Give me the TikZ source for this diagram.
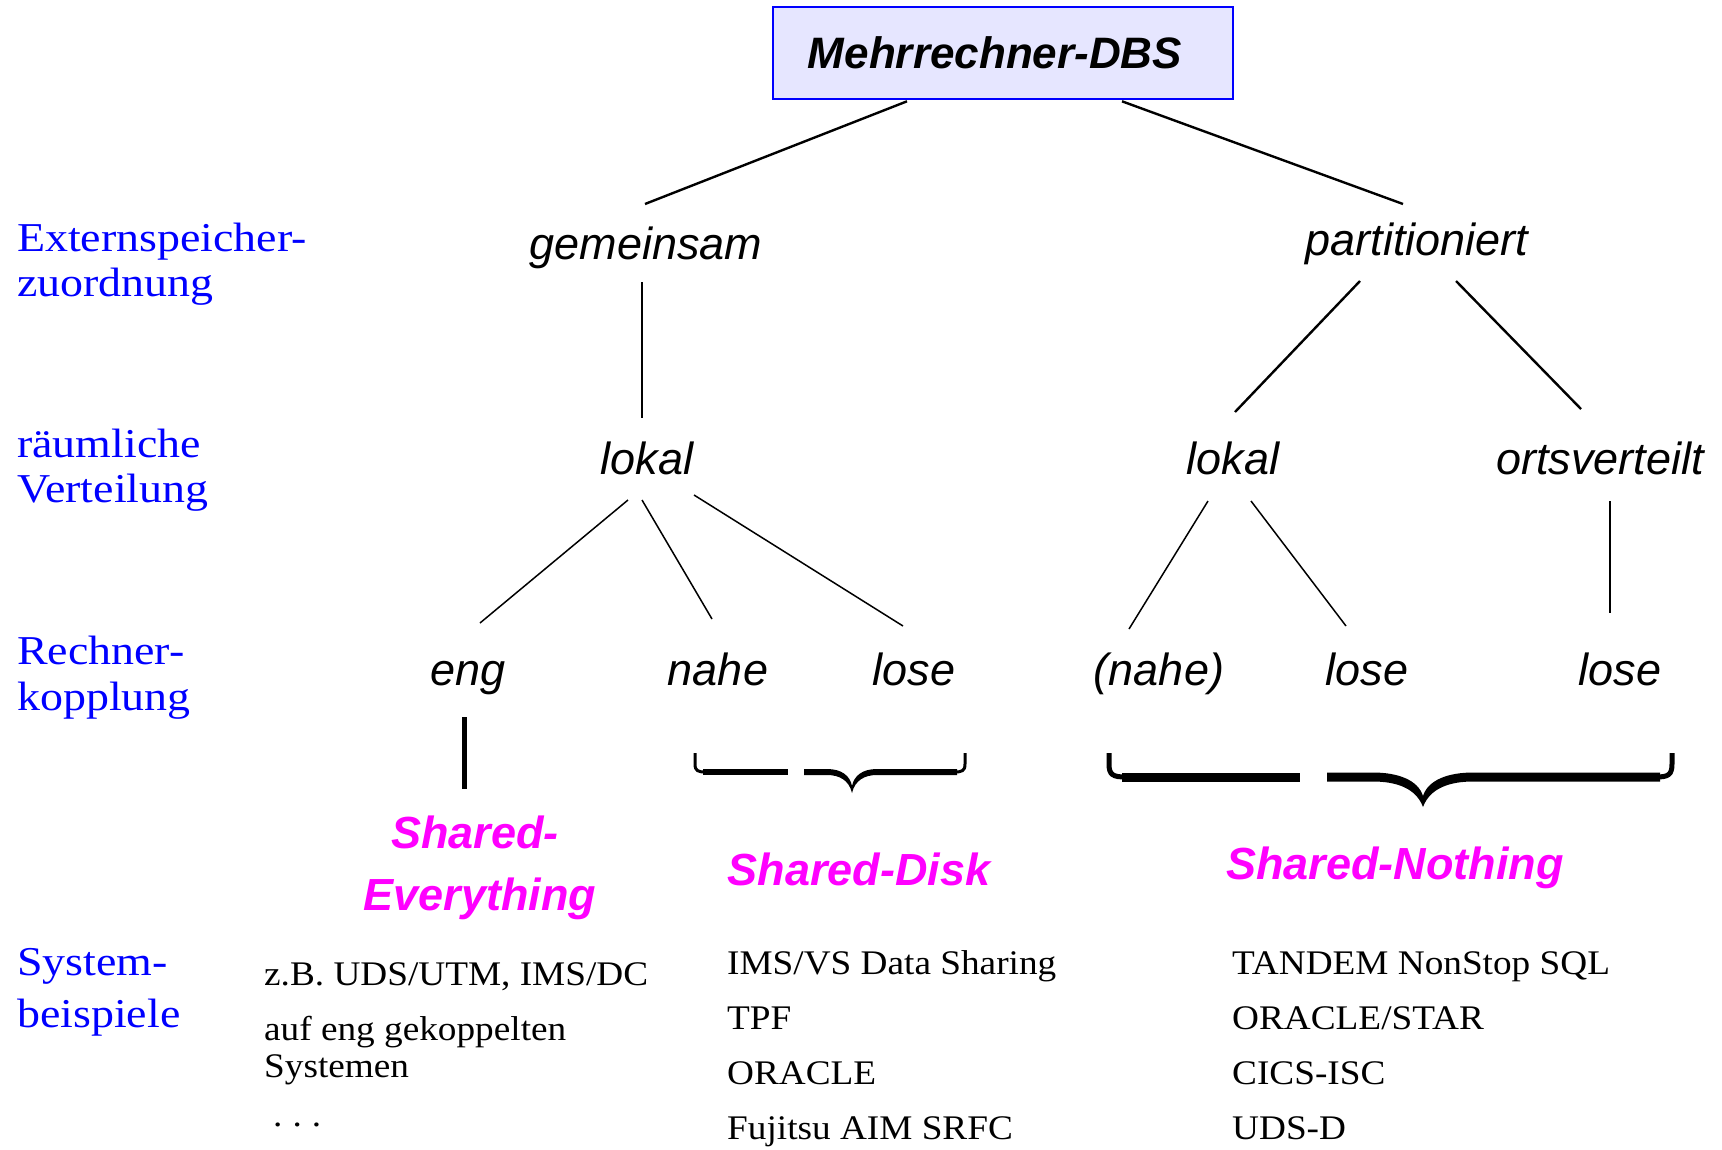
\documentclass[tikz,border=0pt]{standalone}
\usepackage{fontspec}
\usetikzlibrary{calc}
\newfontfamily\lblfont{Liberation Sans}
\newfontfamily\sidefont[FakeStretch=1.12]{Liberation Serif}
\newfontfamily\exfont[FakeStretch=1.08]{Liberation Serif}
\definecolor{boxfill}{RGB}{230,230,255}
\definecolor{sideblue}{RGB}{0,0,255}
\definecolor{shmag}{RGB}{255,0,255}
\tikzset{
  titlebox/.style={draw=sideblue, line width=2.6pt, fill=boxfill, minimum width=460pt,
    minimum height=92pt, inner sep=0pt, font=\lblfont\bfseries\itshape\fontsize{44}{50}\selectfont},
  lbl/.style={anchor=base, inner sep=0pt, font=\lblfont\itshape\fontsize{45}{52}\selectfont},
  shr/.style={anchor=base, inner sep=0pt, text=shmag, font=\lblfont\bfseries\itshape\fontsize{45}{52}\selectfont},
  side/.style={anchor=base west, inner sep=0pt, text=sideblue, font=\sidefont\fontsize{41}{46}\selectfont},
  ex/.style={anchor=base west, inner sep=0pt, font=\exfont\fontsize{34.5}{40}\selectfont},
  conn/.style={line width=2.4pt},
  connthin/.style={line width=1.5pt},
  thickbar/.style={line width=5pt},
}
\begin{document}
\begin{tikzpicture}[x=1pt, y=-1pt]
\fill[white] (0,0) rectangle (1722,1149);
\useasboundingbox (0,0) rectangle (1722,1149);

% root
\node[titlebox] (top) at (1003,53) {Mehrrechner-DBS\hspace*{16pt}};

% level 1: Externspeicherzuordnung
\node[lbl] (gem)  at (646,259)  {gemeinsam};
\node[lbl] (part) at (1417,255) {partitioniert};

% level 2: raeumliche Verteilung
\node[lbl] (lok1) at (647,474)  {lokal};
\node[lbl] (lok2) at (1233,474) {lokal};
\node[lbl] (orts) at (1600,474) {ortsverteilt};

% level 3: Rechnerkopplung
\node[lbl] (eng)   at (468,685)  {eng};
\node[lbl] (nahe)  at (718,685)  {nahe};
\node[lbl] (lose1) at (914,685)  {lose};
\node[lbl] (pnahe) at (1159,685) {(nahe)};
\node[lbl] (lose2) at (1367,685) {lose};
\node[lbl] (lose3) at (1620,685) {lose};

% architecture classes
\node[shr] (se1) at (475,848) {Shared-};
\node[shr] (se2) at (480,910) {Everything};
\node[shr] (sd)  at (859,885) {Shared-Disk};
\node[shr] (sn)  at (1395,879) {Shared-Nothing};

% row captions
\node[side] (c1a) at (17,251) {Externspeicher-};
\node[side] (c1b) at (17,296) {zuordnung};
\node[side] (c2a) at (17,457) {räumliche};
\node[side] (c2b) at (17,502) {Verteilung};
\node[side] (c3a) at (17,664) {Rechner-};
\node[side] (c3b) at (17,710) {kopplung};
\node[side] (c4a) at (17,975) {System-};
\node[side] (c4b) at (17,1027) {beispiele};

% example systems
\node[ex] (e11) at (264,985)  {z.B. UDS/UTM, IMS/DC};
\node[ex] (e12) at (264,1040) {auf eng gekoppelten};
\node[ex] (e13) at (264,1077) {Systemen};
\node[ex] (e14) at (273,1126) {.\hspace{10pt}.\hspace{10pt}.};
\node[ex] (e21) at (727,974)  {IMS/VS Data Sharing};
\node[ex] (e22) at (727,1029) {TPF};
\node[ex] (e23) at (727,1084) {ORACLE};
\node[ex] (e24) at (727,1139) {Fujitsu AIM SRFC};
\node[ex] (e31) at (1232,974)  {TANDEM NonStop SQL};
\node[ex] (e32) at (1232,1029) {ORACLE/STAR};
\node[ex] (e33) at (1232,1084) {CICS-ISC};
\node[ex] (e34) at (1232,1139) {UDS-D};

% tree edges
\draw[conn] ($(top.south)+(-96,1)$) -- ($(gem.base)+(-1,-55)$);
\draw[conn] ($(top.south)+(119,1)$) -- ($(part.base)+(-14,-51)$);
\draw[conn] ($(gem.base)+(-4,23)$) -- ($(lok1.base)+(-5,-56)$);
\draw[conn] ($(part.base)+(-57,26)$) -- ($(lok2.base)+(2,-62)$);
\draw[conn] ($(part.base)+(39,26)$) -- ($(orts.base)+(-19,-65)$);
\draw[connthin] ($(lok1.base)+(-19,26)$) -- ($(eng.base)+(12,-62)$);
\draw[connthin] ($(lok1.base)+(-5,26)$) -- ($(nahe.base)+(-6,-66)$);
\draw[connthin] ($(lok1.base)+(47,21)$) -- ($(lose1.base)+(-11,-59)$);
\draw[connthin] ($(lok2.base)+(-25,27)$) -- ($(pnahe.base)+(-30,-56)$);
\draw[connthin] ($(lok2.base)+(18,27)$) -- ($(lose2.base)+(-21,-59)$);
\draw[conn] ($(orts.base)+(10,27)$) -- ($(lose3.base)+(-10,-72)$);
\draw[thickbar] ($(eng.base)+(-4,32)$) -- ($(se1.base)+(-11,-59)$);

% brace under nahe / lose
\draw[line width=3pt] (695,753) -- (695,764) .. controls (695,771) and (698,772) .. (706,772);
\fill (703,769) rectangle (788,775);
\fill (804,769) -- (827,769) .. controls (842,769) and (850,776) .. (852,786)
      .. controls (854,776) and (862,769) .. (877,769) -- (957,769) -- (957,775) -- (877,775)
      .. controls (865,775) and (855,780) .. (852,793)
      .. controls (849,780) and (839,775) .. (827,775) -- (804,775) -- cycle;
\draw[line width=3pt] (954,772) .. controls (962,772) and (965,771) .. (965,764) -- (965,753);

% brace under (nahe) / lose / lose
\draw[line width=5pt] (1109,753) -- (1109,764) .. controls (1109,775) and (1113,777) .. (1126,777);
\fill (1122,772.5) rectangle (1300,781.5);
\fill (1327,772.5) -- (1373,772.5) .. controls (1398,772.5) and (1418,780) .. (1423,796)
      .. controls (1428,780) and (1448,772.5) .. (1473,772.5) -- (1660,772.5) -- (1660,781.5) -- (1473,781.5)
      .. controls (1450,781.5) and (1430,788) .. (1423,807)
      .. controls (1416,788) and (1396,781.5) .. (1373,781.5) -- (1327,781.5) -- cycle;
\draw[line width=5pt] (1656,777) .. controls (1668,777) and (1672,775) .. (1672,764) -- (1672,753);
\end{tikzpicture}
\end{document}
